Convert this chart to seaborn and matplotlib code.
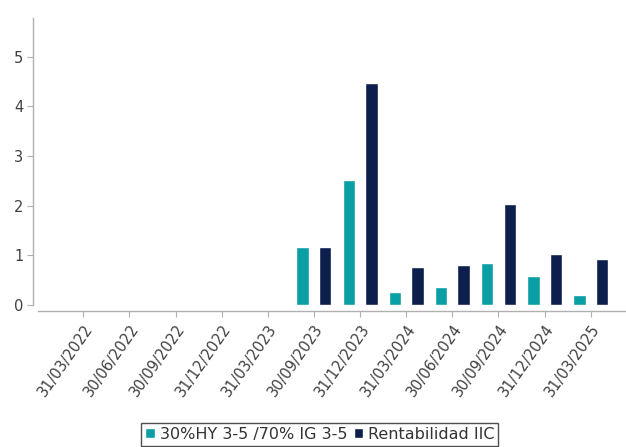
import numpy as np
import matplotlib
matplotlib.use("Agg")
import matplotlib.pyplot as plt
import seaborn as sns
import pandas as pd

fechas = ["31/03/2022", "30/06/2022", "30/09/2022", "31/12/2022", "31/03/2023",
          "30/09/2023", "31/12/2023", "31/03/2024", "30/06/2024", "30/09/2024",
          "31/12/2024", "31/03/2025"]
benchmark = [np.nan, np.nan, np.nan, np.nan, np.nan,
             1.16, 2.51, 0.26, 0.37, 0.84, 0.58, 0.20]
rentabilidad = [np.nan, np.nan, np.nan, np.nan, np.nan,
                1.17, 4.47, 0.76, 0.81, 2.03, 1.03, 0.93]
series = ["30%HY 3-5 /70% IG 3-5", "Rentabilidad IIC"]
colores = ["#0a9fa4", "#0c1f4d"]

df = pd.DataFrame({"fecha": fechas * 2,
                   "valor": benchmark + rentabilidad,
                   "serie": [series[0]] * len(fechas) + [series[1]] * len(fechas)})

sns.set_style("white")
plt.rcParams["font.family"] = ["DejaVu Sans"]

fig = plt.figure(figsize=(6.26, 4.47), dpi=100)
ax = fig.add_axes([0.0607, 0.3177, 0.942, 0.642])

sns.barplot(data=df, x="fecha", y="valor", hue="serie", order=fechas,
            hue_order=series, palette=colores, width=0.98, gap=0.45,
            saturation=1, ax=ax, legend=True)

ax.set_xlim(-0.98, 11.8)
ax.set_ylim(0, 5.78)
ax.set_yticks([0, 1, 2, 3, 4, 5])
ax.set_xlabel("")
ax.set_ylabel("")

sns.despine(ax=ax, offset={"left": 3.6, "bottom": 4.3})
for s in ["left", "bottom"]:
    ax.spines[s].set_color("#b0b0b0")
    ax.spines[s].set_linewidth(1.0)

ax.tick_params(axis="both", which="major", length=4, width=0.8, color="#b0b0b0",
               labelcolor="#404040", labelsize=10.5, bottom=True, left=True)
ax.tick_params(axis="y", pad=3)
plt.setp(ax.get_xticklabels(), rotation=55, ha="right", rotation_mode="anchor")

handles, labels = ax.get_legend_handles_labels()
ax.get_legend().remove()
leg = fig.legend(handles, labels, loc="upper center", bbox_to_anchor=(0.511, 0.054),
                 ncol=2, fontsize=11.5, frameon=True, fancybox=False,
                 handlelength=0.6, handleheight=0.6, handletextpad=0.3,
                 columnspacing=0.4, borderpad=0.25, borderaxespad=0)
leg.get_frame().set_edgecolor("#222222")
leg.get_frame().set_linewidth(1.0)
for t in leg.get_texts():
    t.set_color("#333333")

fig.savefig("out.png", dpi=100)
